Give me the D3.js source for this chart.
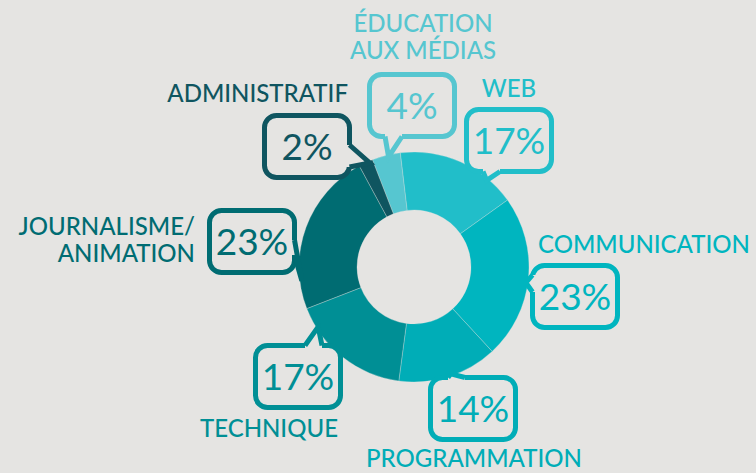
<!DOCTYPE html>
<html>
<head>
<meta charset="utf-8">
<script src="https://cdn.jsdelivr.net/npm/d3@7"></script>
<style>
html, body { margin: 0; padding: 0; background: #e5e4e2; }
svg { display: block; font-family: Lato, "Noto Sans", sans-serif; }
</style>
</head>
<body>
<svg id="chart" width="756" height="473"></svg>
<script>
// --- data
const categories = ["Éducation aux médias", "Web", "Communication", "Programmation", "Technique", "Journalisme/animation", "Administratif"];
const shares = [4, 17, 23, 14, 17, 23, 2];
const labelLines = [["ÉDUCATION", "AUX MÉDIAS"], ["WEB"], ["COMMUNICATION"], ["PROGRAMMATION"], ["TECHNIQUE"], ["JOURNALISME/", "ANIMATION"], ["ADMINISTRATIF"]];
const colors = ["#56c6d0", "#21bec9", "#00b5bf", "#00adb7", "#008f95", "#006c72", "#0f5560"];

// --- layout of the speech bubbles (outer top-left of box, tail side, tail base offsets, tip angle in deg)
const callouts = [
  { box: [367, 72],  side: "bottom", tail: [18, 35], tip: -13, label: [423, 32],  anchor: "middle" },
  { box: [464, 107], side: "bottom", tail: [19, 36], tip: 40,  label: [509, 97],  anchor: "middle" },
  { box: [530, 263], side: "left",   tail: [12, 29], tip: 98,  label: [538, 253], anchor: "start" },
  { box: [428, 375], side: "top",    tail: [20, 37], tip: 161, label: [474, 467], anchor: "middle" },
  { box: [253, 343], side: "top",    tail: [52, 69], tip: 238, label: [338, 437], anchor: "end" },
  { box: [207, 208], side: "right",  tail: [32, 47], tip: 263, label: [195, 235], anchor: "end" },
  { box: [262, 113], side: "right",  tail: [32, 54], tip: -23, label: [348, 102], anchor: "end" }
];

const bg = "#e5e4e2";
const cx = 414, cy = 267, outerR = 115, innerR = 57;
const boxW = 90, boxH = 67, sw = 5;

const svg = d3.select("#chart");
svg.append("rect").attr("width", 756).attr("height", 473).attr("fill", bg);

const data = categories.map((c, i) => ({ name: c, value: shares[i], i: i }));

const pie = d3.pie()
  .sort(null)
  .value(d => d.value)
  .startAngle(-21.2 * Math.PI / 180)
  .endAngle((360 - 21.2) * Math.PI / 180);

const arc = d3.arc().innerRadius(innerR).outerRadius(outerR);

const g = svg.append("g").attr("transform", "translate(" + cx + "," + cy + ")");

g.selectAll("path.slice")
  .data(pie(data))
  .enter()
  .append("path")
    .attr("class", "slice")
    .attr("d", arc)
    .attr("fill", d => colors[d.data.i])
    .attr("stroke", bg)
    .attr("stroke-opacity", 0.5)
    .attr("stroke-width", 0.6);

// point on the donut edge for a tail tip
function tipPoint(deg) {
  const a = deg * Math.PI / 180, r = outerR - 2;
  return [cx + Math.sin(a) * r, cy - Math.cos(a) * r];
}

const bubbles = svg.append("g");

callouts.forEach(function (c, i) {
  const col = colors[i];
  const x0 = c.box[0] + sw / 2, y0 = c.box[1] + sw / 2;
  const w = boxW - sw, h = boxH - sw;

  bubbles.append("rect")
    .attr("x", x0).attr("y", y0)
    .attr("width", w).attr("height", h)
    .attr("rx", 12).attr("ry", 12)
    .attr("fill", "none")
    .attr("stroke", col)
    .attr("stroke-width", sw);

  // tail base points on the box edge and inward offset
  let b1, b2, n;
  if (c.side === "bottom") { b1 = [c.box[0] + c.tail[0], y0 + h]; b2 = [c.box[0] + c.tail[1], y0 + h]; n = [0, -4]; }
  if (c.side === "top")    { b1 = [c.box[0] + c.tail[0], y0];     b2 = [c.box[0] + c.tail[1], y0];     n = [0, 4]; }
  if (c.side === "left")   { b1 = [x0, c.box[1] + c.tail[0]];     b2 = [x0, c.box[1] + c.tail[1]];     n = [4, 0]; }
  if (c.side === "right")  { b1 = [x0 + w, c.box[1] + c.tail[0]]; b2 = [x0 + w, c.box[1] + c.tail[1]]; n = [-4, 0]; }
  const t = tipPoint(c.tip);

  bubbles.append("path")
    .attr("d", d3.line()([[b1[0] + n[0], b1[1] + n[1]], b1, t, b2, [b2[0] + n[0], b2[1] + n[1]]]) + "Z")
    .attr("fill", bg);

  bubbles.append("path")
    .attr("d", d3.line()([b1, t, b2]))
    .attr("fill", "none")
    .attr("stroke", col)
    .attr("stroke-width", sw)
    .attr("stroke-linejoin", "miter")
    .attr("stroke-miterlimit", 3);

  // percentage
  bubbles.append("text")
    .attr("x", c.box[0] + boxW / 2)
    .attr("y", c.box[1] + boxH / 2 + 13.5)
    .attr("text-anchor", "middle")
    .attr("fill", col)
    .style("font-size", "37px")
    .text(shares[i] + "%");

  // category label
  const lab = bubbles.append("text")
    .attr("x", c.label[0])
    .attr("y", c.label[1])
    .attr("text-anchor", c.anchor)
    .attr("fill", col)
    .style("font-size", "24px")
    .style("font-weight", 500);
  labelLines[i].forEach(function (line, k) {
    lab.append("tspan")
      .attr("x", c.label[0])
      .attr("dy", k === 0 ? 0 : 26.5)
      .text(line);
  });
});
</script>
</body>
</html>
